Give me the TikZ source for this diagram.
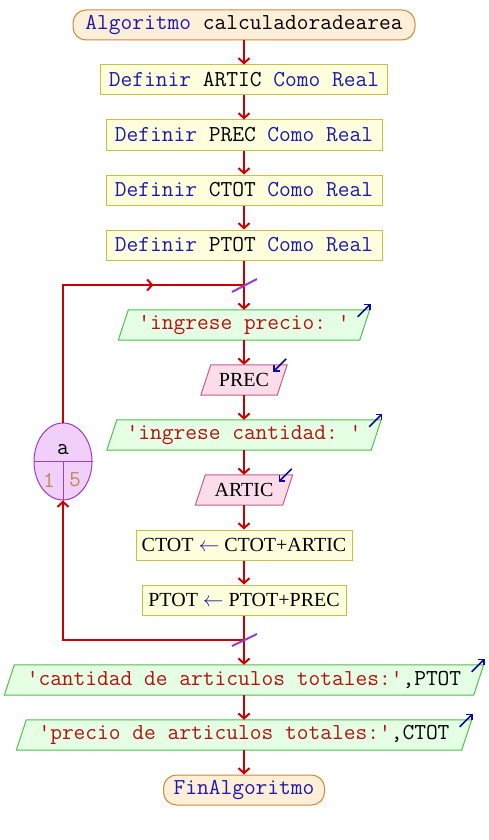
\documentclass[tikz,border=0pt]{standalone}
\usepackage{fontspec}
\setmainfont{Liberation Serif}
\setmonofont{Latin Modern Mono}
\usetikzlibrary{arrows.meta,backgrounds,calc,shapes.geometric}
\definecolor{flowc}{HTML}{CC0000}
\definecolor{kwc}{HTML}{1A1AB0}
\definecolor{strc}{HTML}{B81010}
\definecolor{termfill}{HTML}{FFEFD8}
\definecolor{termdraw}{HTML}{C88A3C}
\definecolor{procfill}{HTML}{FFFFDD}
\definecolor{procdraw}{HTML}{C8C040}
\definecolor{outfill}{HTML}{E4FFE4}
\definecolor{outdraw}{HTML}{50C050}
\definecolor{infill}{HTML}{FADCEB}
\definecolor{indraw}{HTML}{C06088}
\definecolor{loopfill}{HTML}{F0D0FA}
\definecolor{loopdraw}{HTML}{9A3CCC}
\definecolor{numc}{HTML}{C08850}
\definecolor{iconc}{HTML}{0A0AA0}
\newcommand{\kw}[1]{\textcolor{kwc}{#1}}
\newcommand{\str}[1]{\textcolor{strc}{#1}}
\newcommand{\iopar}[3]{%
  \begin{scope}[on background layer]
    \filldraw[fill=#2,draw=#3,line width=1pt]
      ($(#1.south west)+(-5,0)$) -- ($(#1.north west)+(5,0)$) --
      ($(#1.north east)+(5,0)$) -- ($(#1.south east)+(-5,0)$) -- cycle;
  \end{scope}}
\newcommand{\outicon}[1]{\draw[iconarrow] ($(#1.north east)+(-7,7)$) -- ($(#1.north east)+(6,-6)$);}
\newcommand{\inicon}[1]{\draw[iconarrow] ($(#1.north east)+(4,-6)$) -- ($(#1.north east)+(-9,7)$);}
\begin{document}
\begin{tikzpicture}[x=1pt,y=-1pt,
  monof/.style={font=\fontsize{22.8}{26}\selectfont\ttfamily},
  serf/.style={font=\fontsize{20}{24}\selectfont},
  term/.style={monof, draw=termdraw, fill=termfill, line width=1pt, rounded corners=13pt, minimum height=30pt, inner sep=0pt},
  proc/.style={monof, draw=procdraw, fill=procfill, line width=1pt, minimum height=30pt, inner sep=0pt},
  assign/.style={proc, serf},
  outp/.style={monof, minimum height=30pt, inner sep=0pt},
  inp/.style={serf, minimum height=30pt, inner sep=0pt},
  flow/.style={draw=flowc, line width=2pt},
  arr/.style={flow, -{Straight Barb[length=5pt,width=11pt,line width=2pt]}},
  iconarrow/.style={draw=iconc, line width=1.6pt, -{Straight Barb[length=4pt,width=8pt]}},
  slashc/.style={draw=loopdraw, line width=2pt},
]
\useasboundingbox (0,0) rectangle (488,840);
\begin{scope}[on background layer]
\fill[white] (0,0) rectangle (488,840);
\end{scope}

\node[term, minimum width=342pt] (start) at (244,25) {\kw{Algoritmo} calculadoradearea};
\node[proc, minimum width=287pt] (d1) at (244,80) {\kw{Definir} ARTIC \kw{Como Real}};
\node[proc, minimum width=276pt] (d2) at (244,135) {\kw{Definir} PREC \kw{Como Real}};
\node[proc, minimum width=276pt] (d3) at (244,190) {\kw{Definir} CTOT \kw{Como Real}};
\node[proc, minimum width=276pt] (d4) at (244,245) {\kw{Definir} PTOT \kw{Como Real}};

\node[outp, minimum width=241pt] (o1) at (244,325) {\str{'ingrese precio: '}};
\iopar{o1}{outfill}{outdraw}
\node[inp, minimum width=76pt] (i1) at (244,380) {PREC};
\iopar{i1}{infill}{indraw}
\node[outp, minimum width=264pt] (o2) at (244,435) {\str{'ingrese cantidad: '}};
\iopar{o2}{outfill}{outdraw}
\node[inp, minimum width=87pt] (i2) at (244,490) {ARTIC};
\iopar{i2}{infill}{indraw}

\node[assign, minimum width=216pt] (a1) at (244,545) {CTOT \kw{$\leftarrow$} CTOT+ARTIC};
\node[assign, minimum width=204pt] (a2) at (244,600) {PTOT \kw{$\leftarrow$} PTOT+PREC};

\node[outp, minimum width=469pt] (o3) at (244,680) {\str{'cantidad de articulos totales:'},PTOT};
\iopar{o3}{outfill}{outdraw}
\node[outp, minimum width=445pt] (o4) at (244,735) {\str{'precio de articulos totales:'},CTOT};
\iopar{o4}{outfill}{outdraw}
\node[term, minimum width=161pt] (fin) at (244,790) {\kw{FinAlgoritmo}};

% loop node
\node[ellipse, draw=loopdraw, fill=loopfill, line width=1pt, minimum width=58pt, minimum height=77pt, inner sep=0pt] (loop) at (63,461.5) {};
\draw[loopdraw, line width=1pt] (loop.west) -- (loop.east);
\draw[loopdraw, line width=1pt] (loop.center) -- (loop.south);
\node[monof, inner sep=0pt] (la) at (63,450) {a};
\node[monof, inner sep=0pt, text=numc] (l1) at (49,480) {1};
\node[monof, inner sep=0pt, text=numc] (l5) at (75,480) {5};

% icons
\outicon{o1}
\outicon{o2}
\outicon{o3}
\outicon{o4}
\inicon{i1}
\inicon{i2}

% junctions
\coordinate (j1) at (244,285);
\coordinate (j2) at (244,640);
\coordinate (c1) at (63,285);
\coordinate (c2) at (63,640);

% connectors
\draw[arr] (start) -- (d1);
\draw[arr] (d1) -- (d2);
\draw[arr] (d2) -- (d3);
\draw[arr] (d3) -- (d4);
\draw[arr] (d4) -- (o1);
\draw[arr] (o1) -- (i1);
\draw[arr] (i1) -- (o2);
\draw[arr] (o2) -- (i2);
\draw[arr] (i2) -- (a1);
\draw[arr] (a1) -- (a2);
\draw[arr] (a2) -- (o3);
\draw[arr] (o3) -- (o4);
\draw[arr] (o4) -- (fin);

\draw[flow] (loop.north) -- (c1) -- (j1);
\draw[arr] (c1) -- ($(c1)!0.5!(j1)$);
\draw[arr] (j2) -- (c2) -- (loop.south);

\draw[slashc] ($(j1)+(-12,7)$) -- ($(j1)+(13,-6)$);
\draw[slashc] ($(j2)+(-12,6)$) -- ($(j2)+(13,-6)$);
\end{tikzpicture}
\end{document}
